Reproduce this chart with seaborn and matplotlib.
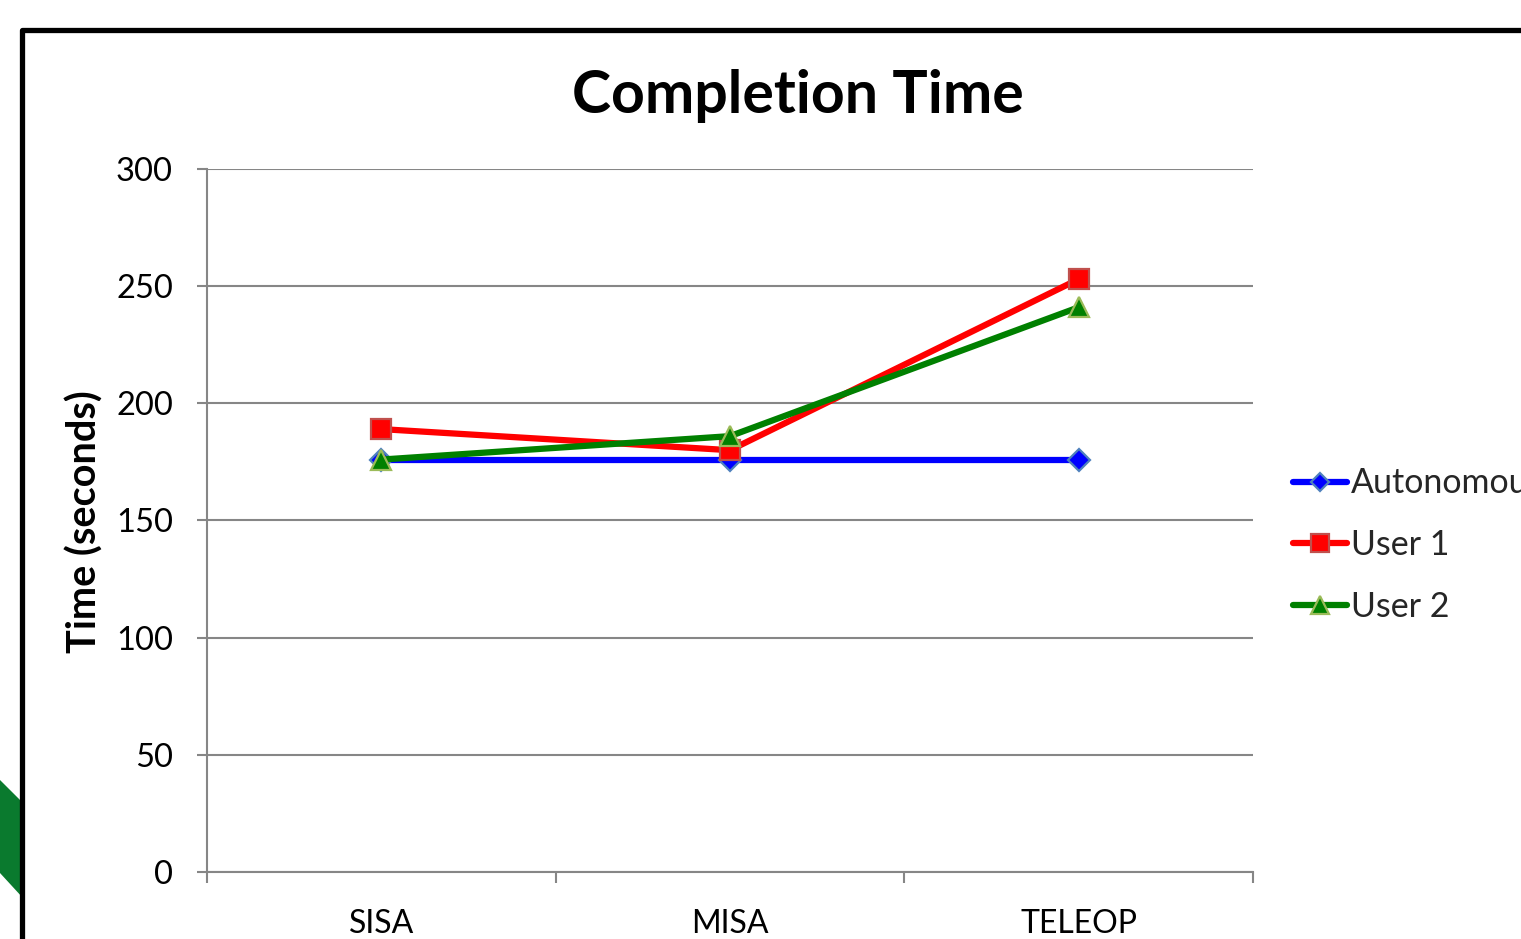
import matplotlib
matplotlib.use("Agg")
import matplotlib.pyplot as plt
from matplotlib.lines import Line2D
from matplotlib.patches import Rectangle, Polygon
import seaborn as sns
import pandas as pd

# Completion time per control mode
categories = ["SISA", "MISA", "TELEOP"]
autonomous = [176, 176, 176]
user1 = [189, 180, 253]
user2 = [176, 186, 241]
series_names = ["Autonomous", "User 1", "User 2"]
y_ticks = [0, 50, 100, 150, 200, 250, 300]

sns.set_theme(style="white")
plt.rcParams["font.family"] = ["Lato", "DejaVu Sans"]

rows = []
for name, vals in zip(series_names, [autonomous, user1, user2]):
    for i, (cat, v) in enumerate(zip(categories, vals)):
        rows.append({"series": name, "pos": i, "time": v})
df = pd.DataFrame(rows)

colors = {"Autonomous": "#0000ff", "User 1": "#ff0000", "User 2": "#008000"}
edges = {"Autonomous": "#4f81bd", "User 1": "#c0504d", "User 2": "#9bbb59"}
markers = {"Autonomous": "D", "User 1": "s", "User 2": "^"}
msizes = {"Autonomous": 11, "User 1": 15, "User 2": 15}

fig = plt.figure(figsize=(15.21, 9.39), dpi=100)
ax = fig.add_axes([0.1361, 0.0714, 0.6877, 0.7486])

sns.lineplot(data=df, x="pos", y="time", hue="series", style="series",
             palette=colors, markers=markers, dashes=False, legend=False,
             linewidth=4.5, ax=ax, zorder=3)

for line, name in zip(ax.get_lines(), series_names):
    line.set_markeredgecolor(edges[name])
    line.set_markeredgewidth(1.6)
    line.set_markersize(msizes[name])
    line.set_clip_on(False)

ax.set_xlim(-0.5, 2.5)
ax.set_ylim(0, 300)
ax.set_yticks(y_ticks)
ax.set_xticks(range(len(categories)))
ax.set_xticklabels(categories)
ax.set_xticks([-0.5, 0.5, 1.5, 2.5], minor=True)
ax.tick_params(axis="x", which="major", bottom=True, length=0, pad=27, labelsize=23)
ax.tick_params(axis="x", which="minor", bottom=True, length=8, width=1.5,
               color="#868686", direction="out")
ax.tick_params(axis="y", left=True, length=7.5, width=1.5, color="#868686",
               direction="out", pad=17, labelsize=23.5)
ax.set_xlabel("")
ax.set_ylabel("")
ax.yaxis.grid(True, color="#868686", linewidth=1.5)
ax.set_axisbelow(True)
for side in ["top", "right"]:
    ax.spines[side].set_visible(False)
for side in ["left", "bottom"]:
    ax.spines[side].set_color("#868686")
    ax.spines[side].set_linewidth(1.5)
for lab in ax.get_yticklabels() + ax.get_xticklabels():
    lab.set_color("black")

fig.text(0.5247, 0.898, "Completion Time", ha="center", va="center",
         fontsize=42.5, fontweight="bold", color="black")
fig.text(0.0559, 0.445, "Time (seconds)", ha="center", va="center",
         rotation=90, fontsize=28.5, fontweight="bold", color="black")

handles = [Line2D([], [], color=colors[n], linewidth=4.5, marker=markers[n],
                  markersize=msizes[n] * 0.85, markeredgecolor=edges[n],
                  markeredgewidth=1.6, solid_capstyle="round")
           for n in series_names]
fig.legend(handles, series_names, loc="center left",
           bbox_to_anchor=(0.850, 0.4195), frameon=False, fontsize=24.5,
           handlelength=1.6, handletextpad=0.1, labelspacing=0.87,
           borderpad=0, borderaxespad=0)

# outer frame
fig.patches.append(Rectangle((0.0145, -0.2), 1.2, 0.968 + 0.2,
                             transform=fig.transFigure, fill=False,
                             edgecolor="black", linewidth=3.8,
                             joinstyle="round", zorder=5))
# green corner shape on the left edge
fig.patches.append(Polygon([(0.0, 1 - 780 / 939), (0.0145, 1 - 802 / 939),
                            (0.0145, 1 - 897 / 939), (0.0, 1 - 873 / 939)],
                           closed=True, transform=fig.transFigure,
                           facecolor="#0a7a2e", edgecolor="none", zorder=4))

fig.savefig("out.png", dpi=100)
